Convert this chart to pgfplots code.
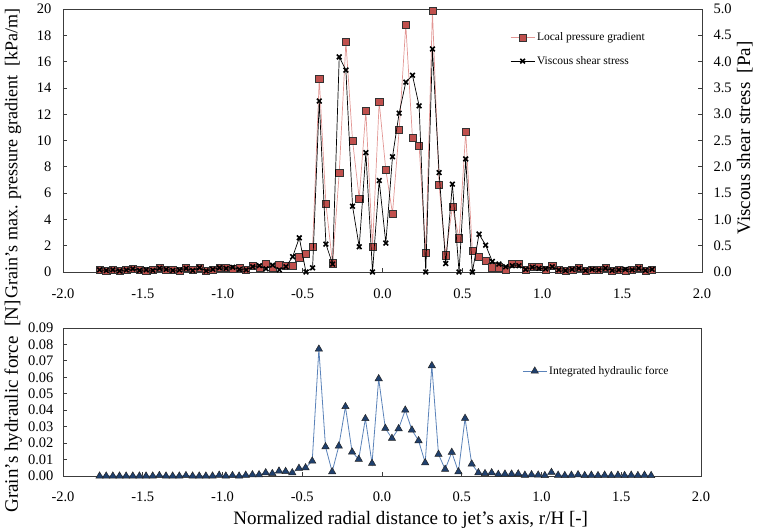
\documentclass[border=0pt]{standalone}
\usepackage{fontspec}
\setmainfont{Liberation Serif}
\usepackage{pgfplots}
\usepackage{pgfplotstable}
\pgfplotsset{compat=1.18}
\definecolor{pfill}{RGB}{192,80,77}
\definecolor{pline}{RGB}{226,150,148}
\definecolor{tfill}{RGB}{31,64,110}
\definecolor{tline}{RGB}{90,130,185}
\definecolor{axgray}{RGB}{60,60,60}

\pgfplotstableread{
x P S F
-1.7708 0.15 0.04 0.0
-1.7292 0.10 0.03 0.0
-1.6875 0.15 0.04 0.0
-1.6458 0.10 0.02 0.0
-1.6042 0.15 0.04 0.0
-1.5625 0.25 0.06 0.0
-1.5208 0.15 0.03 0.0
-1.4792 0.10 0.04 0.0
-1.4375 0.15 0.03 0.0
-1.3958 0.30 0.07 0.0003
-1.3542 0.20 0.05 0.0
-1.3125 0.15 0.03 0.0
-1.2708 0.10 0.04 0.0
-1.2292 0.30 0.07 0.0003
-1.1875 0.15 0.03 0.0
-1.1458 0.35 0.08 0.0
-1.1042 0.10 0.02 0.0
-1.0625 0.15 0.05 0.0
-1.0208 0.30 0.08 0.0005
-0.9792 0.35 0.07 0.0
-0.9375 0.25 0.09 0.0003
-0.8958 0.30 0.05 0.0
-0.8542 0.15 0.04 0.0005
-0.8125 0.45 0.10 0.0008
-0.7708 0.30 0.12 0.0008
-0.7292 0.65 0.06 0.0020
-0.6875 0.35 0.13 0.0015
-0.6458 0.55 0.04 0.0030
-0.6042 0.45 0.10 0.0028
-0.5625 0.50 0.29 0.0020
-0.5208 1.12 0.65 0.0047
-0.4792 1.37 0.00 0.0050
-0.4375 1.93 0.08 0.0091
-0.3958 14.68 3.25 0.0772
-0.3542 5.17 0.53 0.0178
-0.3125 0.66 0.15 0.0026
-0.2708 7.55 4.09 0.0182
-0.2292 17.51 3.84 0.0422
-0.1875 10.00 1.25 0.0146
-0.1458 5.60 0.48 0.0102
-0.1042 12.24 2.27 0.0349
-0.0625 1.93 0.00 0.0077
-0.0208 12.93 1.74 0.0592
0.0208 7.76 0.55 0.0290
0.0625 4.46 2.19 0.0229
0.1042 10.80 3.02 0.0288
0.1458 18.81 3.61 0.0401
0.1875 10.20 3.74 0.0280
0.2292 9.60 3.16 0.0215
0.2708 1.47 0.00 0.0081
0.3125 19.87 4.24 0.0671
0.3542 6.62 1.89 0.0132
0.3958 1.27 0.16 0.0041
0.4375 4.97 1.67 0.0144
0.4792 2.56 0.00 0.0026
0.5208 10.67 2.15 0.0351
0.5625 1.62 0.00 0.0073
0.6042 1.17 0.72 0.0020
0.6458 0.84 0.51 0.0015
0.6875 0.36 0.20 0.0020
0.7292 0.36 0.15 0.0010
0.7708 0.20 0.10 0.0012
0.8125 0.60 0.12 0.0012
0.8542 0.60 0.12 0.0013
0.8958 0.15 0.05 0.0005
0.9375 0.38 0.09 0.0008
0.9792 0.38 0.07 0.0006
1.0208 0.15 0.06 0.0003
1.0625 0.45 0.10 0.0022
1.1042 0.15 0.04 0.0005
1.1458 0.10 0.03 0.0003
1.1875 0.15 0.05 0.0005
1.2292 0.30 0.07 0.0008
1.2708 0.10 0.03 0.0003
1.3125 0.15 0.05 0.0005
1.3542 0.20 0.04 0.0003
1.3958 0.30 0.07 0.0005
1.4375 0.10 0.03 0.0003
1.4792 0.15 0.04 0.0005
1.5208 0.10 0.05 0.0003
1.5625 0.20 0.04 0.0005
1.6042 0.30 0.07 0.0003
1.6458 0.10 0.03 0.0005
1.6875 0.20 0.05 0.0003
}\data

\pgfplotsset{
  base/.style={
    scale only axis, xmin=-2, xmax=2, clip=false,
    tick align=inside, major tick length=4pt,
    axis line style={axgray, line width=0.8pt},
    every tick/.style={axgray, line width=0.8pt},
    tick label style={font=\fontsize{14.5}{16}\selectfont},
    label style={font=\fontsize{19}{22}\selectfont},
    /pgf/number format/assume math mode=true,
    scaled y ticks=false,
    legend style={draw=none, fill=none, font=\fontsize{11.5}{13}\selectfont, row sep=10pt},
    legend cell align=left,
    legend image code/.code={\draw[mark repeat=2,mark phase=2,##1] plot coordinates {(0pt,0pt) (12pt,0pt) (24pt,0pt)};},
  },
  pstyle/.style={color=pline, line width=0.7pt, mark=square*, mark size=3.6pt, mark options={fill=pfill, draw=black!80, line width=0.5pt}},
  sstyle/.style={color=black, line width=0.7pt, mark=x, mark size=3.3pt, mark options={line width=1.6pt}},
  fstyle/.style={color=tline, line width=0.8pt, mark=triangle*, mark size=4.2pt, mark options={fill=tfill, draw=black!85, line width=0.5pt}},
}

\begin{document}
\begin{tikzpicture}
\useasboundingbox (0,0) rectangle (762pt,-531pt);
% top, left axis
\begin{axis}[base, at={(63pt,-272pt)}, anchor=south west, width=639pt, height=263pt,
  ymin=0, ymax=20, ytick={0,2,4,6,8,10,12,14,16,18,20},
  xtick={-2,-1.5,-1,-0.5,0,0.5,1,1.5,2},
  xticklabels={-2.0,-1.5,-1.0,-0.5,0.0,0.5,1.0,1.5,2.0},
  xtick pos=bottom, ytick pos=left,
  xticklabel style={yshift=-13pt}, yticklabel style={xshift=-8pt},
  ylabel={Grain's max. pressure gradient\ \ [kPa/m]},
  ylabel style={at={(axis description cs:-0.078,0.45)}, anchor=center, font=\fontsize{18}{21}\selectfont}]
\addplot[pstyle] table[x=x,y=P]{\data};
\end{axis}
% top, right axis
\begin{axis}[base, at={(63pt,-272pt)}, anchor=south west, width=639pt, height=263pt,
  ymin=0, ymax=5, ytick={0,0.5,1,1.5,2,2.5,3,3.5,4,4.5,5},
  yticklabels={0.0,0.5,1.0,1.5,2.0,2.5,3.0,3.5,4.0,4.5,5.0},
  axis x line=none, axis y line*=right, ytick pos=right,
  yticklabel style={xshift=8pt},
  ylabel={Viscous shear stress\ \ [Pa]},
  ylabel style={at={(axis description cs:1.067,0.51)}, anchor=center, rotate=0},
  legend style={at={(axis description cs:0.695,0.925)}, anchor=north west}]
\addlegendimage{pstyle}
\addlegendentry{Local pressure gradient}
\addplot[sstyle] table[x=x,y=S]{\data};
\addlegendentry{Viscous shear stress}
\end{axis}
% bottom axis
\begin{axis}[base, at={(63pt,-476pt)}, anchor=south west, width=638pt, height=148pt,
  ymin=0, ymax=0.09, ytick={0,0.01,0.02,0.03,0.04,0.05,0.06,0.07,0.08,0.09},
  yticklabels={0.00,0.01,0.02,0.03,0.04,0.05,0.06,0.07,0.08,0.09},
  xtick={-2,-1.5,-1,-0.5,0,0.5,1,1.5,2},
  xticklabels={-2.0,-1.5,-1.0,-0.5,0.0,0.5,1.0,1.5,2.0},
  xtick pos=bottom, ytick pos=left,
  xticklabel style={yshift=-12pt}, yticklabel style={xshift=-6pt},
  ylabel={Grain's hydraulic force\ \ [N]},
  ylabel style={at={(axis description cs:-0.078,0.47)}, anchor=center},
  xlabel={Normalized radial distance to jet's axis, r/H [-]},
  xlabel style={at={(axis description cs:0.545,-0.297)}, anchor=center},
  legend style={at={(axis description cs:0.715,0.77)}, anchor=north west}]
\addplot[fstyle] table[x=x,y=F]{\data};
\addlegendentry{Integrated hydraulic force}
\end{axis}
\end{tikzpicture}
\end{document}
